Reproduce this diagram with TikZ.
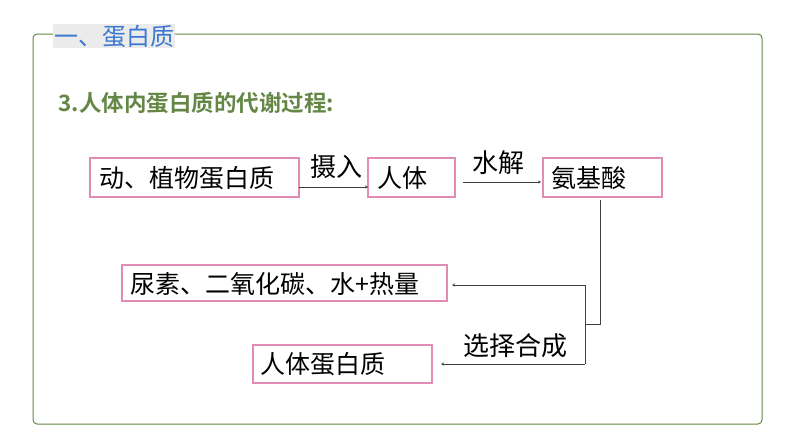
\documentclass[tikz,border=0pt]{standalone}
\usepackage{fontspec}
\setmainfont{Noto Sans CJK SC}
\newfontfamily\cjkb{Noto Sans CJK SC Bold}
\usetikzlibrary{arrows.meta}
\definecolor{frameg}{RGB}{100,135,70}
\definecolor{pinkb}{RGB}{225,140,180}
\definecolor{titleb}{RGB}{60,120,210}
\tikzset{
 bxr/.style={draw=pinkb,line width=1.2pt},
 bt/.style={anchor=west,font=\fontsize{25}{27}\selectfont},
 lbl/.style={font=\fontsize{26}{28}\selectfont},
 con/.style={draw=black!75,line width=0.7pt,-{Stealth[length=3pt,width=3pt]}},
 ln/.style={draw=black!75,line width=0.7pt}
}
\begin{document}
\begin{tikzpicture}[x=1pt,y=-1pt]
\useasboundingbox (0,0) rectangle (794,447);
\draw[frameg,line width=1pt,rounded corners=4pt] (33,34) rectangle (762,424);
\node[fill=black!8,anchor=west,inner sep=1pt,text=titleb,font=\fontsize{24}{26}\selectfont] (t) at (53,36) {一、蛋白质};
\node[anchor=west,text=frameg,font=\cjkb\fontsize{22.5}{24}\selectfont] (s) at (55,103) {3.人体内蛋白质的代谢过程:};
\draw[bxr] (90,158) rectangle (299,197);
\node[bt] (b1) at (96,178) {动、植物蛋白质};
\draw[bxr] (368,158) rectangle (455,197);
\node[bt] (b2) at (374,178) {人体};
\draw[bxr] (543,158) rectangle (662,197);
\node[bt] (b3) at (548,178) {氨基酸};
\draw[bxr] (122,265) rectangle (447,301);
\node[bt] (b4) at (127,284) {尿素、二氧化碳、水+热量};
\draw[bxr] (253,345) rectangle (432,383);
\node[bt] (b5) at (257,364) {人体蛋白质};
\draw[con] (299,187) -- (368,187);
\node[lbl] (l1) at (336,167) {摄入};
\draw[con] (463,182) -- (541,182);
\node[lbl] (l2) at (498,163) {水解};
\coordinate (c1) at (600,324);
\coordinate (c2) at (585,324);
\draw[ln] (600,200) -- (c1) -- (c2);
\draw[ln] (585,285) -- (585,364);
\draw[con] (585,285) -- (452,285);
\draw[con] (585,364) -- (441,364);
\node[lbl] (l3) at (515,346) {选择合成};
\end{tikzpicture}
\end{document}
